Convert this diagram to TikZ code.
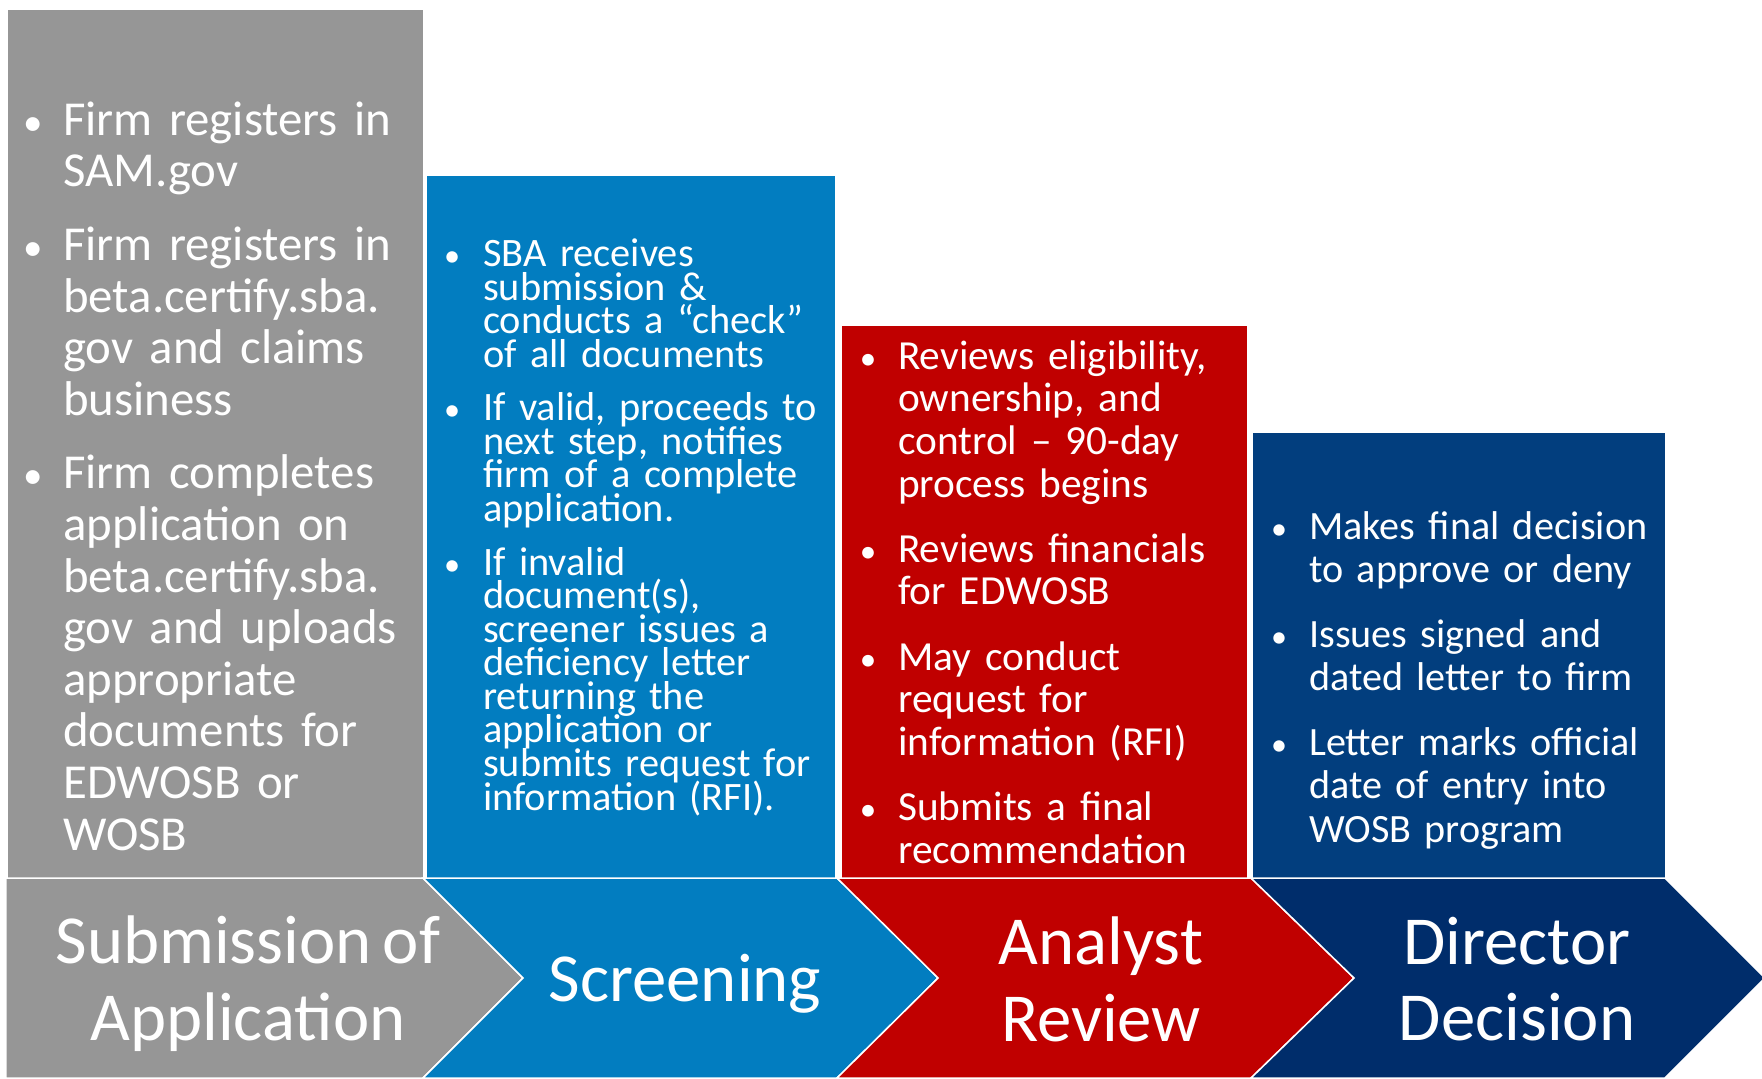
\documentclass[tikz,border=0pt]{standalone}
\usepackage{fontspec}
\setmainfont{Carlito}[WordSpace=0.72]
\usepackage{tikz}
\usetikzlibrary{
  positioning,
  calc
}
\definecolor{subgray}{RGB}{150,150,150}
\definecolor{scrblue}{RGB}{2,125,192}
\definecolor{anared}{RGB}{192,0,0}
\definecolor{dirnavy}{RGB}{2,62,126}
\definecolor{dirnavydark}{RGB}{0,45,107}

\newlength\bulind
\newlength\bulgap
\newcommand\bitem[1]{\hangindent=\bulind\hangafter=1\noindent\rule{0pt}{0.8em}\rlap{\makebox[0pt]{\scalebox{0.8}{\textbullet}}}\hspace*{\bulind}#1\par\vspace{\bulgap}}
\newcommand\panelfont[2]{\fontsize{#1}{#2}\selectfont\lineskiplimit=-\maxdimen\lineskip=0pt}

\tikzstyle{chevron}=[draw=white, line width=1.5pt, line join=miter]
\tikzstyle{panel}=[anchor=north west, inner sep=0pt, text=white]
\tikzstyle{steplabel}=[text=white, align=center, inner sep=0pt, font=\fontsize{69}{77}\selectfont]

\begin{document}
\begin{tikzpicture}[x=1bp, y=-1bp]
        \def\ytop{878};
        \def\ymid{978};
        \def\ybot{1078};

        % 全体の大きさ
        \useasboundingbox (0,0) rectangle (1762,1078);

        % 上の長方形
        \fill[subgray] (8,10) rectangle (423,\ytop);
        \fill[scrblue] (427,176) rectangle (835,\ytop);
        \fill[anared] (842,326) rectangle (1247,\ytop);
        \fill[dirnavy] (1253,433) rectangle (1665,\ytop);

        % 矢羽根
        \draw[chevron, fill=subgray] (6,\ytop) -- (423,\ytop) -- (523,\ymid) -- (423,\ybot) -- (6,\ybot) -- cycle;
        \draw[chevron, fill=scrblue] (423,\ytop) -- (837,\ytop) -- (938,\ymid) -- (837,\ybot) -- (423,\ybot) -- (523,\ymid) -- cycle;
        \draw[chevron, fill=anared] (837,\ytop) -- (1251,\ytop) -- (1354,\ymid) -- (1251,\ybot) -- (837,\ybot) -- (938,\ymid) -- cycle;
        \draw[chevron, fill=dirnavydark] (1251,\ytop) -- (1665,\ytop) -- (1765,\ymid) -- (1665,\ybot) -- (1251,\ybot) -- (1354,\ymid) -- cycle;

        % 見出し
        \node[steplabel] (sub) at (248,984) {Submission of\\Application};
        \node[steplabel] (scr) at (685,984) {Screening};
        \node[steplabel] (ana) at (1101,979) {Analyst\\Review};
        \node[steplabel] (dir) at (1517,979) {Director\\Decision};

        % 箇条書き
        \node[panel, font=\panelfont{49}{51.8}, text width=440bp] (subtext) at (33,96) {\bulind=30bp \bulgap=22bp
          \bitem{Firm registers in\newline SAM.gov}
          \bitem{Firm registers in\newline beta.certify.sba.\newline gov and claims\newline business}
          \bitem{Firm completes\newline application on\newline beta.certify.sba.\newline gov and uploads\newline appropriate\newline documents for\newline EDWOSB or\newline WOSB}};
        \node[panel, font=\panelfont{40.5}{33.7}, text width=420bp] (scrtext) at (452,234) {\bulind=31bp \bulgap=20bp
          \bitem{SBA receives\newline submission \&\newline conducts a “check”\newline of all documents}
          \bitem{If valid, proceeds to\newline next step, notifies\newline firm of a complete\newline application.}
          \bitem{If invalid\newline document(s),\newline screener issues a\newline deficiency letter\newline returning the\newline application or\newline submits request for\newline information (RFI).}};
        \node[panel, font=\panelfont{41.5}{42.8}, text width=420bp] (anatext) at (868,336) {\bulind=30bp \bulgap=22.5bp
          \bitem{Reviews eligibility,\newline ownership, and\newline control -- 90-day\newline process begins}
          \bitem{Reviews financials\newline for EDWOSB}
          \bitem{May conduct\newline request for\newline information (RFI)}
          \bitem{Submits a final\newline recommendation}};
        \node[panel, font=\panelfont{40.3}{43.4}, text width=440bp] (dirtext) at (1279,507) {\bulind=30bp \bulgap=21.7bp
          \bitem{Makes final decision\newline to approve or deny}
          \bitem{Issues signed and\newline dated letter to firm}
          \bitem{Letter marks official\newline date of entry into\newline WOSB program}};
      \end{tikzpicture}
\end{document}
